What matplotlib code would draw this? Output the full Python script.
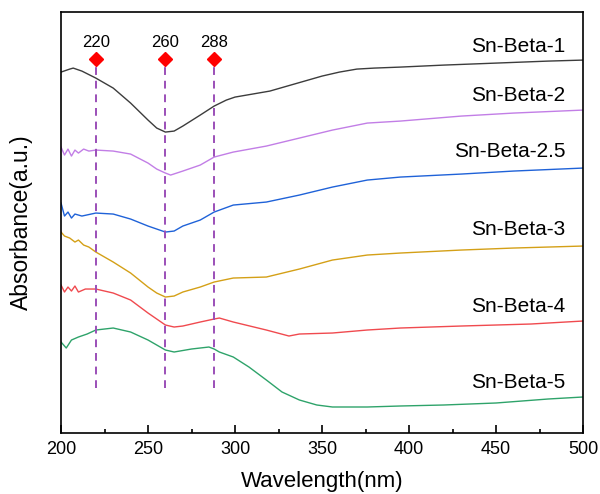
"""Sn-Beta 系列样品的 UV-vis 漫反射光谱图"""
import matplotlib
matplotlib.use("Agg")
import matplotlib.pyplot as plt
from matplotlib.ticker import MultipleLocator

plt.rcParams.update({
    "font.family": ["Liberation Sans", "DejaVu Sans"],
    "xtick.direction": "in",
    "ytick.direction": "in",
})

# 数据 (吸光度为任意单位, 已含堆叠偏移)
wl_1 = [200, 205, 207, 212, 220, 230, 240, 250, 255, 260, 265, 270, 280, 288, 295,
        300, 310, 320, 330, 340, 350, 360, 370, 380, 395, 420, 450, 480, 500]
abs_1 = [361, 364, 365, 362, 355, 345, 330, 313, 305, 301, 302, 307, 318, 327, 333,
         336, 339, 342, 347, 352, 357, 361, 364, 365, 366, 368, 370, 372, 373]

wl_2 = [200, 202, 204, 206, 208, 210, 213, 216, 220, 230, 240, 250, 255, 260, 263,
        270, 280, 288, 299, 318, 337, 356, 376, 395, 430, 460, 500]
abs_2 = [286, 278, 284, 277, 283, 280, 284, 282, 283, 282, 279, 270, 264, 260, 258,
         262, 268, 276, 281, 287, 295, 303, 310, 312, 317, 320, 323]

wl_25 = [200, 202, 204, 206, 208, 212, 220, 230, 240, 250, 260, 265, 270, 280, 288,
         299, 318, 337, 356, 376, 395, 430, 460, 500]
abs_25 = [230, 217, 221, 215, 219, 217, 220, 219, 214, 207, 201, 202, 207, 213, 221,
          228, 231, 238, 246, 253, 256, 259, 262, 265]

wl_3 = [200, 202, 205, 208, 210, 213, 216, 220, 230, 240, 250, 255, 260, 265, 270,
        280, 288, 299, 318, 337, 356, 376, 395, 430, 460, 500]
abs_3 = [201, 197, 195, 191, 193, 188, 186, 181, 171, 160, 146, 140, 136, 137, 141,
         146, 151, 155, 156, 164, 173, 178, 180, 183, 185, 187]

wl_4 = [200, 202, 204, 206, 208, 210, 214, 220, 230, 240, 250, 260, 265, 270, 280,
        288, 291, 299, 318, 331, 337, 356, 376, 395, 430, 470, 500]
abs_4 = [148, 141, 146, 142, 147, 141, 144, 144, 140, 133, 120, 108, 106, 107, 111,
         114, 115, 111, 103, 97, 99, 100, 103, 105, 107, 109, 112]

wl_5 = [200, 203, 206, 210, 215, 220, 230, 240, 250, 260, 265, 275, 285, 288, 291,
        299, 308, 318, 327, 337, 347, 356, 376, 395, 420, 450, 480, 500]
abs_5 = [91, 85, 93, 96, 99, 103, 105, 101, 93, 83, 81, 84, 86, 84, 81,
         76, 66, 53, 41, 33, 28, 26, 26, 27, 28, 30, 34, 36]

series = [
    ("Sn-Beta-1", wl_1, abs_1, "#3c3c3c", 387),
    ("Sn-Beta-2", wl_2, abs_2, "#c27ee6", 338),
    ("Sn-Beta-2.5", wl_25, abs_25, "#1f62d8", 282),
    ("Sn-Beta-3", wl_3, abs_3, "#d4a017", 204),
    ("Sn-Beta-4", wl_4, abs_4, "#f04a4f", 127),
    ("Sn-Beta-5", wl_5, abs_5, "#2ea36a", 51),
]

peaks = [220, 260, 288]
peak_top = 374
peak_bottom = 45

fig = plt.figure(figsize=(6, 4.94), dpi=100)
ax = fig.add_axes([0.1017, 0.1235, 0.87, 0.852])

for name, wl, ab, color, label_y in series:
    ax.plot(wl, ab, color=color, linewidth=1.0)
    ax.text(490, label_y, name, ha="right", va="center", fontsize=15)

for p in peaks:
    ax.plot([p, p], [peak_bottom, peak_top], color="#9b4fb8", linestyle=(0, (4, 3)),
            linewidth=1.4)
    ax.plot(p, peak_top, marker="D", color="red", markersize=7)
    ax.text(p, peak_top + 9, str(p), ha="center", va="bottom", fontsize=12)

ax.set_xlim(200, 500)
ax.set_ylim(0, 421)
ax.xaxis.set_major_locator(MultipleLocator(50))
ax.xaxis.set_minor_locator(MultipleLocator(25))
ax.tick_params(axis="x", which="major", length=6, width=1.2, labelsize=13, pad=6)
ax.tick_params(axis="x", which="minor", length=3, width=1.2)
ax.set_yticks([])
for s in ax.spines.values():
    s.set_linewidth(1.2)
ax.set_xlabel("Wavelength(nm)", fontsize=16, labelpad=9)
ax.set_ylabel("Absorbance(a.u.)", fontsize=16.5, labelpad=20)

fig.savefig("out.png", dpi=100)
